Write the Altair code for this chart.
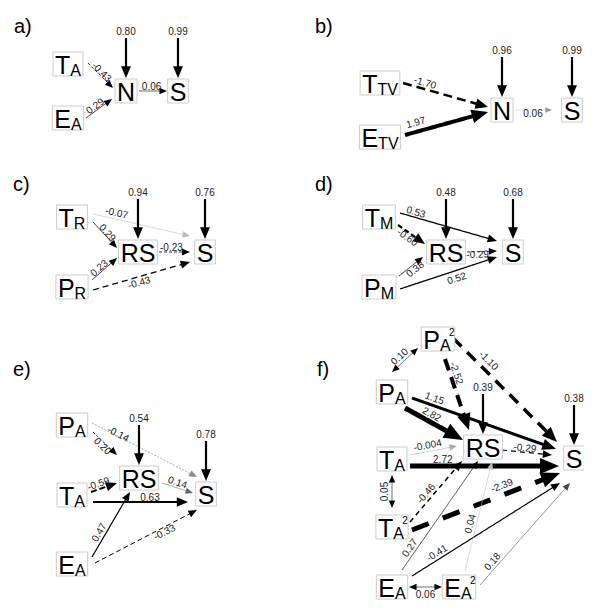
import math
import altair as alt
import pandas as pd

FONT = "Liberation Sans"

# ---------------- panel captions ----------------
panel_labels = ["a)", "b)", "c)", "d)", "e)", "f)"]
panel_label_x = [14, 315, 13, 315, 13, 317]
panel_label_y = [33, 33, 191, 191, 376, 376]

# ---------------- nodes (layout) ----------------
node_keys = ["a.TA", "a.EA", "a.N", "a.S",
             "b.TTV", "b.ETV", "b.N", "b.S",
             "c.TR", "c.PR", "c.RS", "c.S",
             "d.TM", "d.PM", "d.RS", "d.S",
             "e.PA", "e.TA", "e.EA", "e.RS", "e.S",
             "f.PA2", "f.PA", "f.RS", "f.S", "f.TA", "f.TA2", "f.EA", "f.EA2"]
node_main = ["T", "E", "N", "S",
             "T", "E", "N", "S",
             "T", "P", "RS", "S",
             "T", "P", "RS", "S",
             "P", "T", "E", "RS", "S",
             "P", "P", "RS", "S", "T", "T", "E", "E"]
node_sub = ["A", "A", "", "",
            "TV", "TV", "", "",
            "R", "R", "", "",
            "M", "M", "", "",
            "A", "A", "A", "", "",
            "A", "A", "", "", "A", "A", "A", "A"]
node_sup = ["", "", "", "",
            "", "", "", "",
            "", "", "", "",
            "", "", "", "",
            "", "", "", "", "",
            "2", "", "", "", "", "2", "", "2"]
node_x = [68, 68, 126, 178,
          380, 380, 502, 572,
          72, 72, 138, 205,
          379, 379, 446, 513,
          72, 72, 72, 139, 206,
          438, 392, 483, 574, 392, 392, 392, 459]
node_y = [64, 118, 91, 91,
          83, 137, 110, 110,
          217, 287, 252, 252,
          217, 287, 252, 252,
          425, 495, 564, 478, 494,
          339, 392, 447, 458, 459, 527, 587, 587]

# ---------------- paths (values) ----------------
edge_from = ["a.TA", "a.EA", "a.N",
             "b.TTV", "b.ETV", "b.N",
             "c.TR", "c.TR", "c.PR", "c.RS", "c.PR",
             "d.TM", "d.TM", "d.PM", "d.RS", "d.PM",
             "e.PA", "e.PA", "e.TA", "e.TA", "e.EA", "e.EA", "e.RS",
             "f.PA", "f.PA2", "f.PA2", "f.PA", "f.PA", "f.TA", "f.TA", "f.RS",
             "f.TA", "f.TA2", "f.TA2", "f.EA", "f.EA", "f.EA2", "f.EA2", "f.EA"]
edge_to = ["a.N", "a.N", "a.S",
           "b.N", "b.N", "b.S",
           "c.S", "c.RS", "c.RS", "c.S", "c.S",
           "d.S", "d.RS", "d.RS", "d.S", "d.S",
           "e.S", "e.RS", "e.RS", "e.S", "e.RS", "e.S", "e.S",
           "f.PA2", "f.RS", "f.S", "f.S", "f.RS", "f.RS", "f.S", "f.S",
           "f.TA2", "f.RS", "f.S", "f.RS", "f.S", "f.RS", "f.S", "f.EA2"]
edge_coef = ["-0.43", "0.29", "0.06",
             "-1.70", "1.97", "0.06",
             "-0.07", "0.29", "0.23", "-0.23", "-0.43",
             "0.53", "-0.60", "0.38", "-0.29", "0.52",
             "-0.14", "0.20", "-0.59", "0.63", "0.47", "-0.33", "0.14",
             "0.10", "-2.52", "-1.10", "1.15", "2.82", "-0.004", "2.72", "-0.29",
             "0.05", "-0.46", "-2.39", "0.27", "-0.41", "0.04", "0.18", "0.06"]

# residual (error) terms
res_node = ["a.N", "a.S", "b.N", "b.S", "c.RS", "c.S", "d.RS", "d.S",
            "e.RS", "e.S", "f.RS", "f.S"]
res_value = ["0.80", "0.99", "0.96", "0.99", "0.94", "0.76", "0.48", "0.68",
             "0.54", "0.78", "0.39", "0.38"]

# ---------------- path styles: kind, width, dash, colour ----------------
S_ = [1, 0]
edge_style = [
    ("->", 0.8, [3, 2], "#000"), ("->", 0.8, S_, "#000"), ("->", 0.6, S_, "#000"),
    ("->", 2.5, [9, 5], "#000"), ("->", 4.0, S_, "#000"), ("->", 0.3, S_, "#999"),
    ("->", 0.6, S_, "#bbb"), ("->", 0.8, S_, "#000"), ("->", 0.8, S_, "#000"),
    ("->", 0.8, [3, 2], "#000"), ("->", 1.3, [6, 4], "#000"),
    ("->", 1.3, S_, "#000"), ("->", 2.2, [5, 3], "#000"), ("->", 0.8, S_, "#000"),
    ("->", 0.8, [3, 2], "#000"), ("->", 1.3, S_, "#000"),
    ("->", 0.7, [2, 1.5], "#888"), ("->", 0.8, [3, 1.5], "#000"), ("->", 2.0, [6, 3], "#000"),
    ("->", 2.0, S_, "#000"), ("->", 1.2, S_, "#000"), ("->", 1.0, [5, 3], "#000"),
    ("->", 0.6, S_, "#666"),
    ("<->", 0.6, S_, "#000"), ("->", 4.0, [12, 7], "#000"), ("->", 3.5, [12, 8], "#000"),
    ("->", 3.0, S_, "#000"), ("->", 5.0, S_, "#000"), ("->", 0.6, S_, "#aaa"),
    ("->", 5.0, S_, "#000"), ("->", 1.2, [5, 4], "#000"),
    ("<->", 0.6, S_, "#000"), ("->", 1.5, [5, 4], "#000"), ("->", 5.0, [18, 15], "#000"),
    ("->", 0.7, S_, "#000"), ("->", 1.2, S_, "#000"), ("->", 0.6, S_, "#bbb"),
    ("->", 0.6, S_, "#444"), ("<->", 0.6, S_, "#000"),
]

# ---------------- path ports (offsets from node centres) and label placement ----------------
edge_ports = [
    ((20, -1), (-13, -3), 0.45, 3), ((18, 0), (-14, 8), 0.45, 4), ((13, 0), (-11, 0), 0.45, 4.5),
    ((23, 0), (-14, -3), 0.24, 6), ((25, -2), (-14, 2), 0.16, 9), ((12, 0), (-20, 0), 0.5, -4),
    ((21, -3), (-15, -16), 0.23, 6), ((21, 5), (-21, -4), 0.5, 3), ((20, -7), (-21, 6), 0.4, 4),
    ((21, 0), (-15, 0), 0.4, 4), ((21, 3), (-15, 10), 0.46, -6),
    ((21, -4), (-16, -11), 0.15, 5), ((19, 8), (-21, -8), 0.45, -5), ((20, -11), (-23, 5), 0.55, -5),
    ((21, 0), (-16, -1), 0.35, -3), ((21, 2), (-16, 5), 0.56, -8),
    ((20, -2), (-9, -17), 0.24, 2), ((21, 7), (-22, -23), 0.5, -4), ((19, -3), (-22, 5), 0.35, 5),
    ((21, 7), (-18, 8), 0.6, 4.5), ((20, -7), (-9, 14), 0.33, 6), ((23, -1), (-9, 16), 0.66, -5),
    ((23, 5), (-13, -1), 0.45, 5),
    ((0, -20), (-20, 9), 0.45, 6), ((7, 20), (-14, -17), 0.23, 6), ((15, -1), (-17, -16), 0.28, 9),
    ((20, 6), (-18, -9), 0.14, 7), ((13, 16), (-20, -7), 0.4, 7), ((18, -4), (-26, -1), 0.4, 6),
    ((18, 7), (-15, 8), 0.22, 6), ((19, 3), (-22, -3), 0.45, 4),
    ((0, 16), (0, -19), 0.5, 7), ((18, -5), (-21, 14), 0.4, 6), ((20, 3), (-14, 15), 0.63, 9),
    ((10, -17), (-5, 14), 0.17, 6), ((20, -11), (-14, 25), 0.19, 6), ((6, -16), (9, 15), 0.42, 6),
    ((21, -2), (-4, 25), 0.19, 6), ((17, 0), (-17, 0), 0.5, -8),
]

# ---------------- geometry helpers ----------------
CW = {"T": .611, "A": .667, "E": .667, "V": .667, "N": .722, "S": .667,
      "R": .722, "P": .667, "M": .833, "2": .556}


def tw(s, fs):
    return sum(CW[c] for c in s) * fs


MAIN_FS, SUB_FS, SUP_FS = 25, 16, 10
pos = {}
box_rows, main_rows, sub_rows, sup_rows = [], [], [], []
for k, m, sb, sp, cx, cy in zip(node_keys, node_main, node_sub, node_sup, node_x, node_y):
    mw, sw, pw = tw(m, MAIN_FS), tw(sb, SUB_FS), tw(sp, SUP_FS)
    W = mw + sw + 0.4 * pw
    x0 = cx - W / 2
    pos[k] = (cx, cy)
    box_rows.append(dict(x=x0 - 2, x2=x0 + W + 2, y=cy - 12, y2=cy + 12))
    main_rows.append(dict(x=x0, y=cy + 10, t=m))
    if sb:
        sub_rows.append(dict(x=x0 + mw, y=cy + 11.5, t=sb))
    if sp:
        sup_rows.append(dict(x=x0 + mw + sw - 1.5, y=cy - 3, t=sp))


def head_len(w):
    return 6 + 2.6 * w


line_rows, head_rows, lab_rows = [], [], []


def add_arrow(sx, sy, tx, ty, kind, w, dash, col):
    dx, dy = tx - sx, ty - sy
    L = math.hypot(dx, dy)
    ux, uy = dx / L, dy / L
    hl = head_len(w)
    ang = math.degrees(math.atan2(dy, dx))
    x1, y1 = sx, sy
    if kind == "<->":
        x1, y1 = sx + ux * hl * 0.7, sy + uy * hl * 0.7
        head_rows.append(dict(x=sx, y=sy, a=(ang + 180) % 360, s=hl * hl, c=col))
    x2, y2 = tx - ux * hl * 0.7, ty - uy * hl * 0.7
    head_rows.append(dict(x=tx, y=ty, a=ang % 360, s=hl * hl, c=col))
    line_rows.append(dict(x=x1, y=y1, x2=x2, y2=y2, w=w, c=col, dash=dash))


for f, t, coef, style, port in zip(edge_from, edge_to, edge_coef, edge_style, edge_ports):
    kind, w, dash, col = style
    (sdx, sdy), (tdx, tdy), lt, lo = port
    sx, sy = pos[f][0] + sdx, pos[f][1] + sdy
    tx, ty = pos[t][0] + tdx, pos[t][1] + tdy
    add_arrow(sx, sy, tx, ty, kind, w, dash, col)
    phi = math.degrees(math.atan2(ty - sy, tx - sx))
    if phi >= 90:
        phi -= 180
    elif phi < -90:
        phi += 180
    upx, upy = math.sin(math.radians(phi)), -math.cos(math.radians(phi))
    lab_rows.append(dict(x=sx + (tx - sx) * lt + upx * lo,
                         y=sy + (ty - sy) * lt + upy * lo,
                         t=coef, a=phi % 360))

for n, v in zip(res_node, res_value):
    cx, cy = pos[n]
    add_arrow(cx, cy - 12 - 41, cx, cy - 13, "->", 2.2, [1, 0], "#000")
    lab_rows.append(dict(x=cx, y=cy - 12 - 47, t=v, a=0))

cap_rows = [dict(x=x, y=y, t=t) for t, x, y in zip(panel_labels, panel_label_x, panel_label_y)]

# ---------------- chart ----------------
xs = alt.Scale(domain=[8, 584], nice=False, zero=False)
ys = alt.Scale(domain=[8, 601], nice=False, zero=False, reverse=True)


def XY():
    return dict(x=alt.X("x:Q", scale=xs, axis=None), y=alt.Y("y:Q", scale=ys, axis=None))


lines = alt.Chart(pd.DataFrame(line_rows)).mark_rule(strokeCap="butt").encode(
    **XY(), x2="x2:Q", y2="y2:Q",
    strokeWidth=alt.StrokeWidth("w:Q", scale=None),
    color=alt.Color("c:N", scale=None),
    strokeDash=alt.StrokeDash("dash:N", scale=None),
)

heads = alt.Chart(pd.DataFrame(head_rows)).mark_point(
    shape="M0,0L-2,-0.84L-2,0.84Z", filled=True, opacity=1, strokeWidth=0
).encode(
    **XY(),
    angle=alt.Angle("a:Q", scale=None),
    size=alt.Size("s:Q", scale=None),
    color=alt.Color("c:N", scale=None),
)

boxes = alt.Chart(pd.DataFrame(box_rows)).mark_rect(
    fill="white", stroke="#cccccc", strokeWidth=1
).encode(**XY(), x2="x2:Q", y2="y2:Q")

main_txt = alt.Chart(pd.DataFrame(main_rows)).mark_text(
    font=FONT, fontSize=MAIN_FS, align="left", baseline="alphabetic", color="#000"
).encode(**XY(), text="t:N")

sub_txt = alt.Chart(pd.DataFrame(sub_rows)).mark_text(
    font=FONT, fontSize=SUB_FS, align="left", baseline="alphabetic", color="#000"
).encode(**XY(), text="t:N")

sup_txt = alt.Chart(pd.DataFrame(sup_rows)).mark_text(
    font=FONT, fontSize=SUP_FS, align="left", baseline="alphabetic", color="#000"
).encode(**XY(), text="t:N")

labels = alt.Chart(pd.DataFrame(lab_rows)).mark_text(
    font=FONT, fontSize=10, align="center", baseline="middle", color="#222"
).encode(**XY(), text="t:N", angle=alt.Angle("a:Q", scale=None))

captions = alt.Chart(pd.DataFrame(cap_rows)).mark_text(
    font=FONT, fontSize=20, align="left", baseline="alphabetic", color="#000"
).encode(**XY(), text="t:N")

chart = alt.layer(lines, heads, boxes, main_txt, sub_txt, sup_txt, labels, captions).properties(
    width=576, height=593, padding=0,
    autosize=alt.AutoSizeParams(type="none"),
).configure_view(stroke=None)

chart.save("out.html", embed_options={"renderer": "svg", "actions": False})
